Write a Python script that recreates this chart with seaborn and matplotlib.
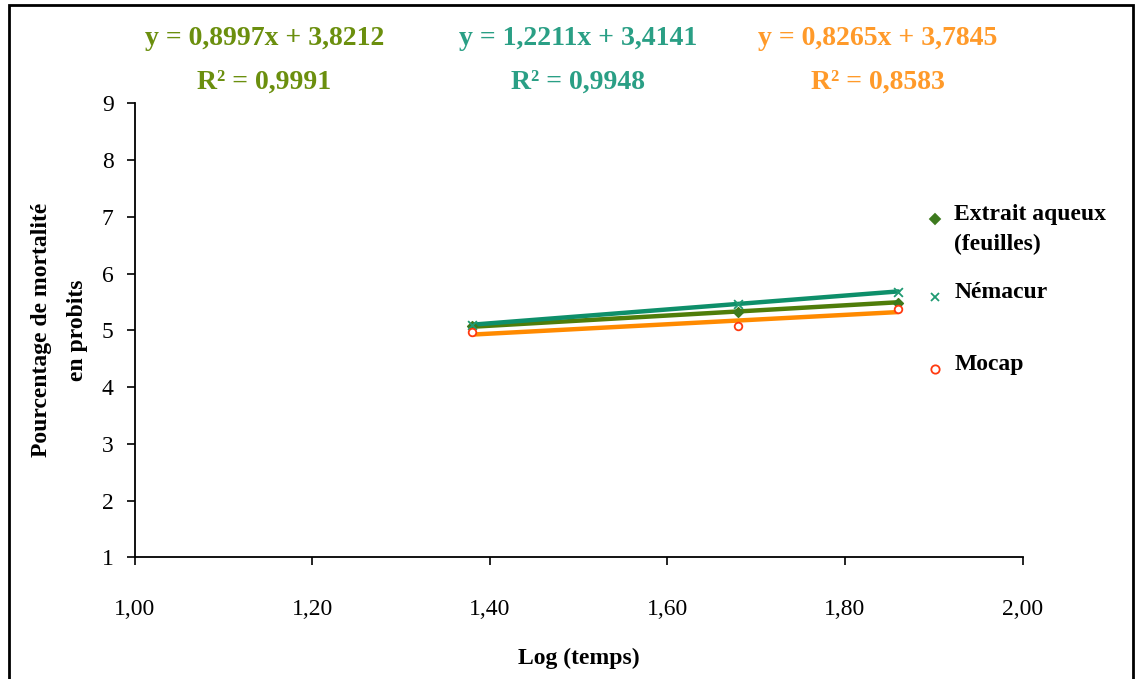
import numpy as np
import pandas as pd
import matplotlib.pyplot as plt
import seaborn as sns
from matplotlib.patches import Rectangle
from matplotlib.lines import Line2D
from matplotlib.ticker import FuncFormatter

# Data
log_temps = [1.38, 1.68, 1.86]
extrait = [5.07, 5.33, 5.49]
nemacur = [5.10, 5.47, 5.67]
mocap = [4.97, 5.08, 5.37]

series_names = ["Extrait aqueux\n(feuilles)", "Némacur", "Mocap"]
slopes = [0.8997, 1.2211, 0.8265]
intercepts = [3.8212, 3.4141, 3.7845]
r2_values = [0.9991, 0.9948, 0.8583]

line_colors = ["#4f7d0a", "#0e8f6a", "#ff8a00"]
text_colors = ["#6b8f0e", "#2a9f85", "#ff9a2a"]
marker_colors = ["#3d7a1e", "#1f9a72", "#ff3a10"]
markers = ["D", "x", "o"]

df = pd.DataFrame({
    "log": log_temps * 3,
    "probit": extrait + nemacur + mocap,
    "serie": [n for n in series_names for _ in log_temps],
})

sns.set_style("white")
plt.rcParams["font.family"] = ["Liberation Serif", "DejaVu Serif"]
plt.rcParams["text.color"] = "black"
plt.rcParams["axes.labelcolor"] = "black"
plt.rcParams["xtick.color"] = "black"
plt.rcParams["ytick.color"] = "black"

fig = plt.figure(figsize=(11.4, 6.79), dpi=100)
ax = fig.add_axes([0.118, 0.179, 0.779, 0.669])

# trend lines from the displayed equations
xs = np.array([min(log_temps), max(log_temps)])
for a, b, c in zip(slopes, intercepts, line_colors):
    sns.lineplot(x=xs, y=a * xs + b, ax=ax, color=c, lw=3.2, legend=False)


def marker_style(m, c):
    if m == "o":
        return dict(marker=m, s=30, facecolors="white", edgecolors=c, linewidths=1.3)
    if m == "x":
        return dict(marker=m, s=40, color=c, linewidths=1.3)
    return dict(marker=m, s=25, color=c)


for name, m, c in zip(series_names, markers, marker_colors):
    sub = df[df["serie"] == name]
    ax.scatter(sub["log"], sub["probit"], zorder=3, **marker_style(m, c))

ax.set_xlim(1.0, 2.0)
ax.set_ylim(1, 9)
ax.set_xticks(np.arange(1.0, 2.01, 0.2))
ax.set_yticks(range(1, 10))
ax.xaxis.set_major_formatter(FuncFormatter(lambda v, p: f"{v:.2f}".replace(".", ",")))
ax.tick_params(axis="both", direction="out", length=6, width=1.2, labelsize=17,
               bottom=True, left=True)
ax.tick_params(axis="x", pad=24)
ax.tick_params(axis="y", pad=9)
for s in ["top", "right"]:
    ax.spines[s].set_visible(False)
for s in ["left", "bottom"]:
    ax.spines[s].set_color("black")
    ax.spines[s].set_linewidth(1.3)

ax.set_xlabel("Log (temps)", fontsize=17, fontweight="bold", labelpad=20)
ax.set_ylabel("Pourcentage de mortalité\nen probits", fontsize=17,
              fontweight="bold", labelpad=10, linespacing=1.95)

# equations above the plot
eq_x = [0.232, 0.507, 0.770]
for x, a, b, r2, c in zip(eq_x, slopes, intercepts, r2_values, text_colors):
    eq = f"y = {a:.4f}x + {b:.4f}".replace(".", ",")
    fig.text(x, 0.944, eq, color=c, fontsize=20, fontweight="bold",
             ha="center", va="center")
    fig.text(x, 0.879, f"R² = {r2:.4f}".replace(".", ","), color=c,
             fontsize=20, fontweight="bold", ha="center", va="center")

# legend, placed like the original
leg_y = [0.677, 0.563, 0.456]
for y, name, m, c in zip(leg_y, series_names, markers, marker_colors):
    fig.add_artist(Line2D([0.820], [y], transform=fig.transFigure, marker=m,
                          markersize=6 if m != "D" else 5,
                          markerfacecolor="white" if m == "o" else c,
                          markeredgecolor=c, markeredgewidth=1.3, linestyle="none"))
    fig.text(0.837, y + 0.022, name, fontsize=17, fontweight="bold",
             ha="left", va="top", linespacing=1.5)

fig.patches.append(Rectangle((0.008, -0.01), 0.986, 1.003, transform=fig.transFigure,
                             fill=False, edgecolor="black", lw=2))

fig.savefig("out.png", dpi=100)
